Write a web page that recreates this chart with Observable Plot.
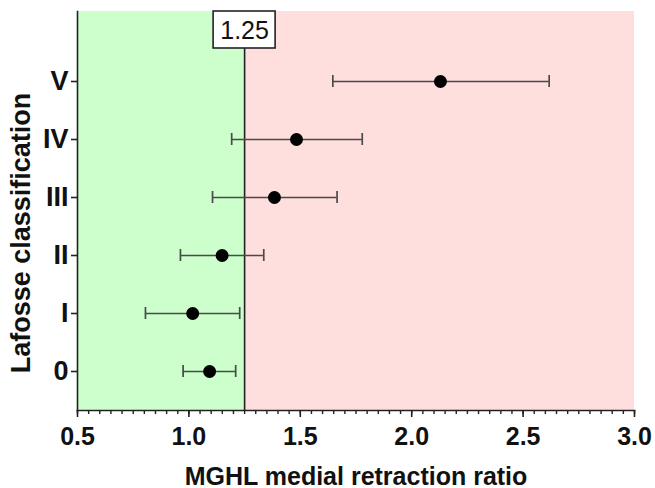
<!DOCTYPE html>
<html>
<head>
<meta charset="utf-8">
<script src="https://cdn.jsdelivr.net/npm/d3@7"></script>
<script src="https://cdn.jsdelivr.net/npm/@observablehq/plot@0.6"></script>
<style>
  html, body { margin: 0; padding: 0; background: #fff; }
  svg { font-family: "Liberation Sans", Arial, sans-serif; }
</style>
</head>
<body>
<div id="chart"></div>
<script>
const categories = ["V", "IV", "III", "II", "I", "0"];
const means =  [2.129, 1.483, 1.384, 1.149, 1.017, 1.093];
const lower =  [1.646, 1.192, 1.106, 0.962, 0.805, 0.974];
const upper =  [2.617, 1.778, 1.665, 1.336, 1.228, 1.210];
const xTicks = [0.5, 1.0, 1.5, 2.0, 2.5, 3.0];
const threshold = 1.25;
const xDomain = [0.5, 3.0];

const data = categories.map((c, i) => ({cat: c, mean: means[i], lo: lower[i], hi: upper[i]}));
const font = '"Liberation Sans", Arial, sans-serif';

const chart = Plot.plot({
  width: 655,
  height: 488,
  marginLeft: 77,
  marginRight: 21,
  marginTop: 11,
  marginBottom: 78,
  style: {fontFamily: font, background: "#fff"},
  x: {domain: xDomain},
  y: {type: "band", domain: categories, range: [50.8, 401.2], padding: 0},
  marks: [
    Plot.rect([{a: xDomain[0], b: threshold}], {x1: "a", x2: "b", fill: "#ccffcc"}),
    Plot.rect([{a: threshold, b: xDomain[1]}], {x1: "a", x2: "b", fill: "#ffdede"}),
    Plot.ruleX([threshold], {stroke: "#222", strokeWidth: 1.6}),
    Plot.rect([threshold], {x1: d => d, x2: d => d, insetLeft: -31, insetRight: -31, insetBottom: 362, fill: "#fff", stroke: "#222", strokeWidth: 1.6}),
    Plot.text([threshold], {x: d => d, text: d => d.toFixed(2), frameAnchor: "top", dy: 19, lineAnchor: "middle", fontSize: 25, fill: "#111", fontFamily: font}),
    Plot.frame({anchor: "bottom", stroke: "#222", strokeWidth: 1.6}),
    Plot.frame({anchor: "left", stroke: "#222", strokeWidth: 1.6}),
    Plot.axisX({ticks: d3.ticks(0.5, 3, 50), tickSize: 4, text: null, stroke: "#222", strokeWidth: 1.4}),
    Plot.axisX({ticks: xTicks, tickSize: 7, tickPadding: 10, tickFormat: d => d.toFixed(1), fontSize: 25, fontWeight: "bold", fill: "#111", stroke: "#222", strokeWidth: 1.6, label: null}),
    Plot.axisY({tickSize: 6, tickPadding: 3, fontSize: 27, fontWeight: "bold", fill: "#111", stroke: "#222", strokeWidth: 1.6, label: null}),
    Plot.ruleY(data, {y: "cat", x1: "lo", x2: "hi", stroke: "#4a4a4a", strokeWidth: 1.7}),
    Plot.tickX(data, {y: "cat", x: "lo", insetTop: 23, insetBottom: 23, stroke: "#4a4a4a", strokeWidth: 1.7}),
    Plot.tickX(data, {y: "cat", x: "hi", insetTop: 23, insetBottom: 23, stroke: "#4a4a4a", strokeWidth: 1.7}),
    Plot.dot(data, {y: "cat", x: "mean", r: 6.5, fill: "#000", stroke: "none"}),
    Plot.text(["MGHL medial retraction ratio"], {text: d => d, frameAnchor: "bottom", dy: 66, lineAnchor: "middle", fontSize: 25, fontWeight: "bold", fill: "#111", fontFamily: font}),
    Plot.text(["Lafosse classification"], {text: d => d, frameAnchor: "left", textAnchor: "middle", dx: -56, dy: 22, rotate: -90, lineAnchor: "middle", fontSize: 27, fontWeight: "bold", fill: "#111", fontFamily: font})
  ]
});
document.getElementById("chart").appendChild(chart);
</script>
</body>
</html>
